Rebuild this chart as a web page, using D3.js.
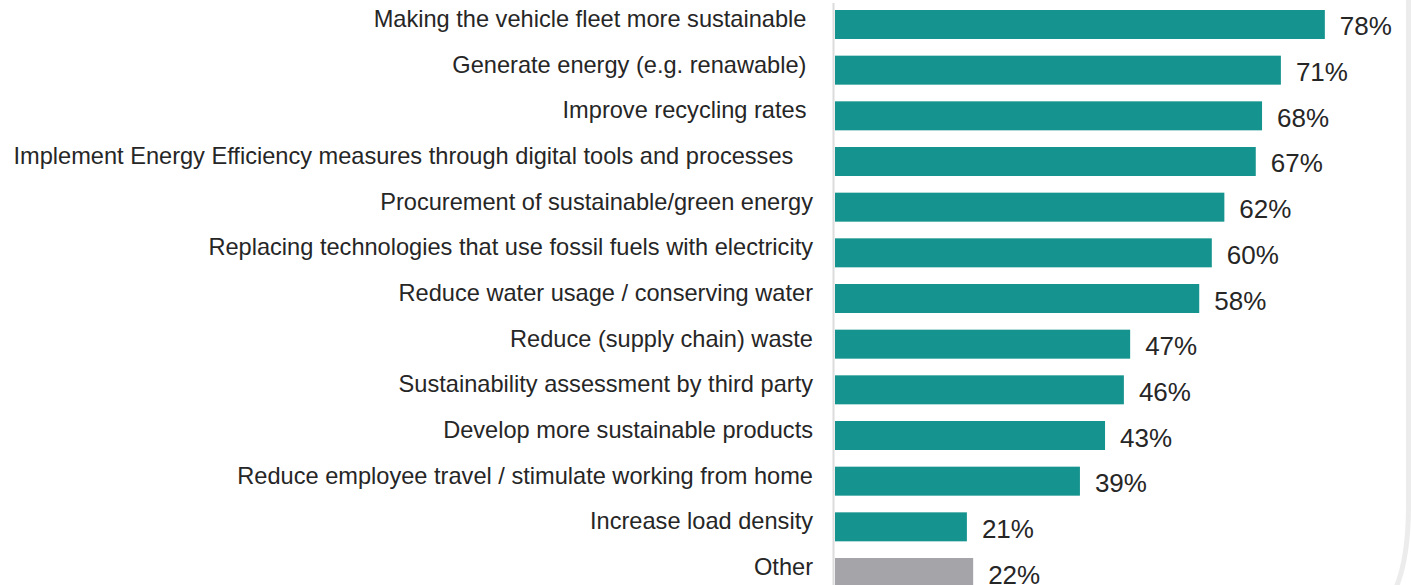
<!DOCTYPE html>
<html><head><meta charset="utf-8">
<script src="https://cdn.jsdelivr.net/npm/d3@7"></script>
<style>html,body{margin:0;padding:0;background:#fff;overflow:hidden}</style>
</head><body>
<svg id="c" width="1411" height="585"></svg>
<script>
const categories = [
  "Making the vehicle fleet more sustainable ",
  "Generate energy (e.g. renawable) ",
  "Improve recycling rates ",
  "Implement Energy Efficiency measures through digital tools and processes   ",
  "Procurement of sustainable/green energy",
  "Replacing technologies that use fossil fuels with electricity",
  "Reduce water usage / conserving water",
  "Reduce (supply chain) waste",
  "Sustainability assessment by third party",
  "Develop more sustainable products",
  "Reduce employee travel / stimulate working from home",
  "Increase load density",
  "Other"
];
const values = [78, 71, 68, 67, 62, 60, 58, 47, 46, 43, 39, 21, 22];
const highlightOther = ["Other"];

const svg = d3.select("#c");
const x = d3.scaleLinear().domain([0, 100]).range([835, 1463]);
const y = d3.scaleBand().domain(categories).range([10, 587]).paddingInner(0.365).paddingOuter(0);

// right frame edge
svg.append("path")
  .attr("d", "M1408.5,-5 L1408.5,505 Q1408.5,560 1395,590")
  .attr("fill", "none").attr("stroke", "#ececec").attr("stroke-width", 5);

// axis line
svg.append("line").attr("x1", 833.5).attr("x2", 833.5).attr("y1", 3).attr("y2", 585)
  .attr("stroke", "#dcdcdc").attr("stroke-width", 2);

svg.selectAll("rect.bar").data(categories).enter().append("rect")
  .attr("class", "bar")
  .attr("x", x(0))
  .attr("y", d => y(d))
  .attr("width", (d, i) => x(values[i]) - x(0))
  .attr("height", y.bandwidth())
  .attr("fill", d => highlightOther.includes(d) ? "#a5a4a9" : "#15938e");

svg.selectAll("text.cat").data(categories).enter().append("text")
  .attr("class", "cat")
  .attr("x", 813)
  .attr("y", d => y(d) + y.bandwidth() / 2 + 2.5)
  .attr("text-anchor", "end")
  .style("white-space", "pre")
  .attr("font-family", "Liberation Sans, Arial, sans-serif")
  .attr("font-size", 23.6)
  .attr("fill", "#262626")
  .text(d => d);

svg.selectAll("text.val").data(categories).enter().append("text")
  .attr("class", "val")
  .attr("x", (d, i) => x(values[i]) + 15)
  .attr("y", d => y(d) + y.bandwidth() / 2 + 11)
  .attr("font-family", "Liberation Sans, Arial, sans-serif")
  .attr("font-size", 26)
  .attr("fill", "#262626")
  .text((d, i) => values[i] + "%");
</script>
</body></html>
